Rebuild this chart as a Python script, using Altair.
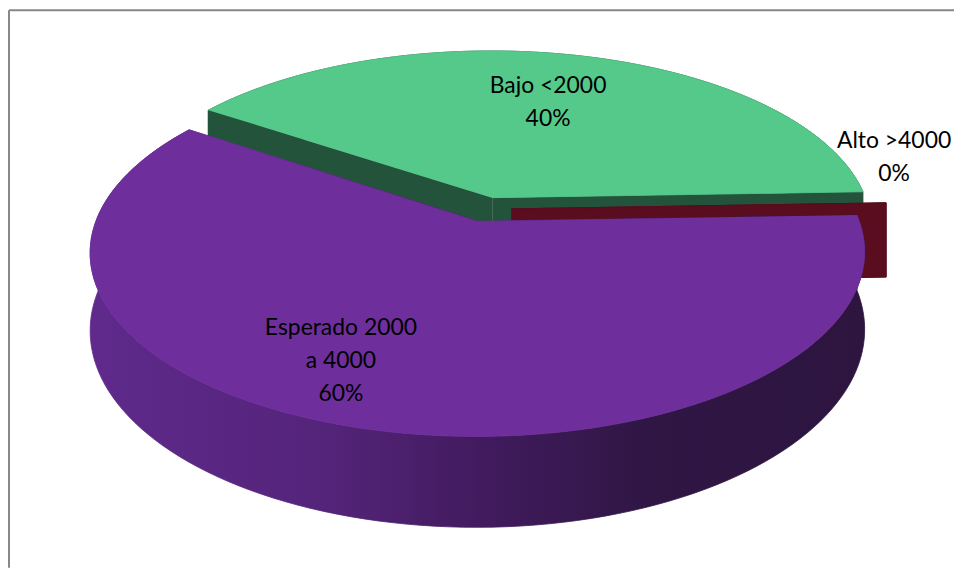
import math
import altair as alt
import pandas as pd

# ---------------- data ----------------
categories = ["Bajo <2000", "Esperado 2000 a 4000", "Alto >4000"]
label_text = ["Bajo <2000", "Esperado 2000\na 4000", "Alto >4000"]
values = [40, 60, 0]

df = pd.DataFrame({
    "cat": categories,
    "label": label_text,
    "value": values,
    "idx": list(range(len(categories))),
})

# ---------------- styles / 3D-pie layout ----------------
TOP_COLOR = {
    "Bajo <2000": "#55C98A",
    "Esperado 2000 a 4000": "#6E2F9C",
    "Alto >4000": "#5A0D1E",
}
PURPLE_SIDE = alt.LinearGradient(
    gradient="linear", x1=0, x2=1, y1=0, y2=0,
    stops=[
        alt.GradientStop(color="#5F2A8C", offset=0.0),
        alt.GradientStop(color="#54247A", offset=0.3),
        alt.GradientStop(color="#421B5F", offset=0.5),
        alt.GradientStop(color="#2F1644", offset=0.72),
        alt.GradientStop(color="#2D1540", offset=1.0),
    ],
)
SIDE_COLOR = {
    "Bajo <2000": "#23533A",
    "Esperado 2000 a 4000": PURPLE_SIDE,
    "Alto >4000": "#5A0D1E",
}
DRAW_ORDER = ["Bajo <2000", "Alto >4000", "Esperado 2000 a 4000"]
# label placement: (radius factor, angular offset in degrees from slice middle)
LABEL_PLACE = {
    "Bajo <2000": (0.772, 1.9),
    "Esperado 2000 a 4000": (0.726, -12.0),
    "Alto >4000": (1.211, 16.0),
}

CX, CY = 487, 209          # projected pie centre (page px)
A, B = 379, 175.6          # horizontal / vertical radius factors
K = 0.167                  # perspective factor
DEPTH = 75                 # pie thickness
EXPL = 0.07                # explosion distance (radius units)
ROT = math.radians(2)      # first slice angle
N = 120                    # arc resolution

W, H = 950, 561
XS = alt.Scale(domain=[8, 8 + W], nice=False, zero=False)
YS = alt.Scale(domain=[8, 8 + H], nice=False, zero=False, reverse=True)

base = (
    alt.Chart(df)
    .transform_window(cum="sum(value)", sort=[alt.SortField("idx", order="ascending")])
    .transform_joinaggregate(total="sum(value)")
    .transform_calculate(a0=f"{ROT} + 2*PI*(datum.cum - datum.value)/datum.total")
    .transform_calculate(a1=f"{ROT} + 2*PI*datum.cum/datum.total")
    .transform_calculate(mid="(datum.a0 + datum.a1)/2")
    .transform_calculate(ox=f"{EXPL}*cos(datum.mid)")
    .transform_calculate(oy=f"{EXPL}*sin(datum.mid)")
)


def project(ch):
    return (
        ch.transform_calculate(u="datum.ox + datum.r*cos(datum.th)")
        .transform_calculate(v="datum.oy + datum.r*sin(datum.th)")
        .transform_calculate(w=f"1 + {K}*datum.v")
        .transform_calculate(px=f"{CX} + {A}*datum.u/datum.w")
        .transform_calculate(py=f"{CY} - {B}*datum.v/datum.w + {DEPTH}*datum.h/datum.w")
    )


PARTS = {
    "top": dict(
        n=N + 2,
        r="datum.i == 0 ? 0 : 1",
        th=f"datum.a0 + (datum.a1 - datum.a0)*(datum.i - 1)/{N}",
        h="0",
    ),
    "side": dict(
        n=2 * N + 2,
        r="1",
        th=(f"datum.i <= {N} ? datum.a0 + (datum.a1 - datum.a0)*datum.i/{N}"
            f" : datum.a1 - (datum.a1 - datum.a0)*(datum.i - {N} - 1)/{N}"),
        h=f"datum.i <= {N} ? 0 : 1",
    ),
    "radial0": dict(
        n=4,
        r="(datum.i == 1 || datum.i == 2) ? 1 : 0",
        th="datum.a0",
        h="datum.i >= 2 ? 1 : 0",
    ),
    "radial1": dict(
        n=4,
        r="(datum.i == 1 || datum.i == 2) ? 1 : 0",
        th="datum.a1",
        h="datum.i >= 2 ? 1 : 0",
    ),
}


def face(cat, part, color):
    p = PARTS[part]
    ch = (
        base.transform_filter(alt.datum.cat == cat)
        .transform_calculate(i=f"sequence(0, {p['n']})")
        .transform_flatten(["i"])
        .transform_calculate(r=p["r"])
        .transform_calculate(th=p["th"])
        .transform_calculate(h=p["h"])
    )
    ch = project(ch)
    return ch.mark_line(
        filled=True, fill=color, stroke=color, strokeWidth=0.8, strokeJoin="round"
    ).encode(
        x=alt.X("px:Q", scale=XS, axis=None),
        y=alt.Y("py:Q", scale=YS, axis=None),
        order=alt.Order("i:Q"),
    )


layers = []
for cat in DRAW_ORDER:
    for part in ["radial0", "radial1", "side"]:
        layers.append(face(cat, part, SIDE_COLOR[cat]))
    layers.append(face(cat, "top", TOP_COLOR[cat]))

# labels
for cat in categories:
    rl, dth = LABEL_PLACE[cat]
    t = (
        base.transform_filter(alt.datum.cat == cat)
        .transform_calculate(r=f"{rl}")
        .transform_calculate(th=f"datum.mid + {math.radians(dth)}")
        .transform_calculate(h="0")
        .transform_calculate(ox="0")
        .transform_calculate(oy="0")
    )
    t = project(t).transform_calculate(
        txt="datum.label + '\\n' + format(datum.value/datum.total, '.0%')"
    )
    layers.append(
        t.mark_text(
            font="Lato", fontSize=23, lineHeight=33, align="center",
            baseline="alphabetic", color="#000000", lineBreak="\n",
        ).encode(
            x=alt.X("px:Q", scale=XS, axis=None),
            y=alt.Y("py:Q", scale=YS, axis=None),
            text="txt:N",
        )
    )

# chart-area frame: only the left and top edges show in the reference
frame_df = pd.DataFrame({"x0": [9.0], "x1": [8.0 + W], "y0": [9.0], "y1": [8.0 + H]})
layers.append(
    alt.Chart(frame_df).mark_rule(color="#878787", strokeWidth=2).encode(
        x=alt.X("x0:Q", scale=XS, axis=None),
        y=alt.Y("y0:Q", scale=YS, axis=None),
        y2="y1:Q",
    )
)
layers.append(
    alt.Chart(frame_df).mark_rule(color="#878787", strokeWidth=2).encode(
        y=alt.Y("y0:Q", scale=YS, axis=None),
        x=alt.X("x0:Q", scale=XS, axis=None),
        x2="x1:Q",
    )
)

chart = (
    alt.layer(*layers)
    .properties(
        width=W, height=H, padding=0, background="white",
        autosize=alt.AutoSizeParams(type="none"),
    )
    .configure_view(stroke="transparent", strokeWidth=0)
)

chart.save("out.html", embed_options={"renderer": "svg", "actions": False})
